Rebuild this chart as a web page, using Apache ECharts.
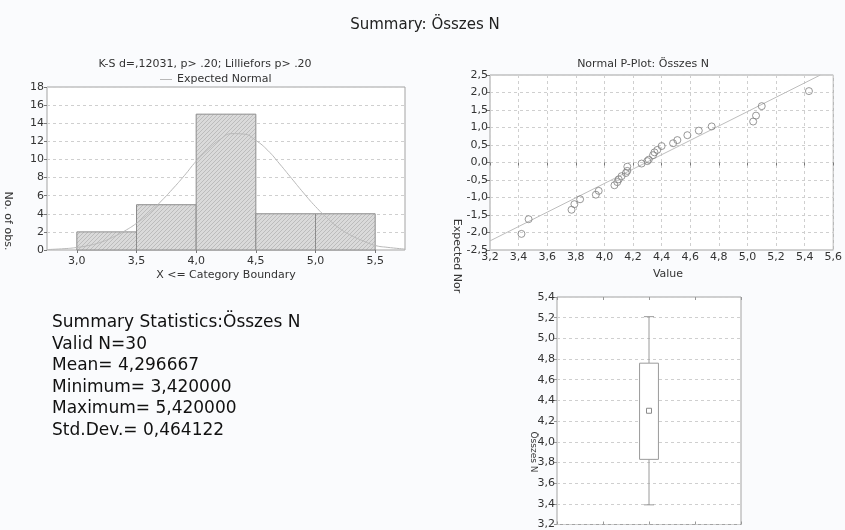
<!DOCTYPE html>
<html>
<head>
<meta charset="utf-8">
<title>Summary: Összes N</title>
<script src="https://cdn.jsdelivr.net/npm/echarts@6/dist/echarts.min.js"></script>
<style>
  html, body { margin: 0; padding: 0; background: #fafbfd; }
  #main { width: 845px; height: 530px; }
</style>
</head>
<body>
<div id="main"></div>
<script>
// histogram
const histEdges = [3.0, 3.5, 4.0, 4.5, 5.0, 5.5];
const histCounts = [2, 5, 15, 4, 4];
const histTicks = [3.0, 3.5, 4.0, 4.5, 5.0, 5.5];

// expected normal curve
const curveX = [2.75, 2.9, 3.0, 3.1, 3.2, 3.3, 3.4, 3.5, 3.6, 3.7, 3.8, 3.9, 4.0, 4.1, 4.2, 4.3,
  4.4, 4.5, 4.6, 4.7, 4.8, 4.9, 5.0, 5.1, 5.2, 5.3, 5.4, 5.5, 5.6, 5.75];
const curveY = [0.05, 0.15, 0.28, 0.5, 0.85, 1.4, 2.1, 2.95, 4.0, 5.3, 6.7, 8.2, 9.8, 11.1, 12.2, 12.85,
  12.8, 12.1, 11.0, 9.5, 7.9, 6.3, 4.8, 3.5, 2.4, 1.6, 1.0, 0.5, 0.3, 0.1];

// normal probability plot
const pValues = [3.42, 3.47, 3.77, 3.79, 3.83, 3.94, 3.96, 4.07, 4.09, 4.10, 4.12, 4.15, 4.16, 4.16, 4.26,
  4.30, 4.31, 4.34, 4.35, 4.37, 4.40, 4.48, 4.51, 4.58, 4.66, 4.75, 5.04, 5.06, 5.10, 5.43];
const pExpected = [-2.04, -1.62, -1.35, -1.19, -1.05, -0.92, -0.81, -0.65, -0.56, -0.48, -0.39, -0.30, -0.24, -0.12, -0.03,
  0.04, 0.08, 0.21, 0.29, 0.36, 0.47, 0.55, 0.64, 0.78, 0.91, 1.03, 1.17, 1.34, 1.61, 2.04];
const refLineX = [3.2, 5.51];
const refLineY = [-2.24, 2.5];

// box plot: mean, +-SD box, +-1.96*SD whiskers
const boxLow = 3.39;
const boxQ1 = 3.83;
const boxMean = 4.30;
const boxQ3 = 4.76;
const boxHigh = 5.21;

const statLines = [
  'Summary Statistics:Összes N',
  'Valid N=30',
  'Mean= 4,296667',
  'Minimum= 3,420000',
  'Maximum= 5,420000',
  'Std.Dev.= 0,464122'
];

const FONT = 'DejaVu Sans';
const comma = (d) => (v) => v.toFixed(d).replace('.', ',');

// hatch pattern for the bars
const pat = document.createElement('canvas');
pat.width = 4; pat.height = 4;
const pc = pat.getContext('2d');
pc.fillStyle = '#dadada';
pc.fillRect(0, 0, 4, 4);
pc.strokeStyle = '#bcbcbc';
pc.lineWidth = 1;
pc.beginPath();
pc.moveTo(0, 4); pc.lineTo(4, 0);
pc.stroke();

const labelStyle = { color: '#333', fontSize: 11, fontFamily: FONT };
const tickStyle = { show: true, length: 3, lineStyle: { color: '#777' } };
const dashed = { show: true, lineStyle: { color: '#cfcfcf', type: [3, 3], width: 1 } };

const myChart = echarts.init(document.getElementById('main'));

const option = {
  backgroundColor: '#fafbfd',
  animation: false,
  textStyle: { fontFamily: FONT },
  grid: [
    { left: 47, top: 87, width: 358, height: 163, show: true, backgroundColor: '#fff', borderColor: '#a3a3a3' },
    { left: 490, top: 75, width: 348, height: 175, show: true, backgroundColor: '#fff', borderColor: '#a3a3a3' },
    { left: 557, top: 297, width: 184, height: 230, show: true, backgroundColor: '#fff', borderColor: '#a3a3a3' }
  ],
  xAxis: [
    {
      gridIndex: 0, type: 'value', min: 2.75, max: 5.75,
      axisLine: { show: false },
      axisTick: Object.assign({ customValues: histTicks }, tickStyle),
      axisLabel: Object.assign({ customValues: histTicks, margin: 6, formatter: comma(1) }, labelStyle),
      splitLine: { show: false }
    },
    {
      gridIndex: 1, type: 'value', min: 3.2, max: 5.6, interval: 0.2,
      axisLine: { show: false },
      axisTick: tickStyle,
      axisLabel: Object.assign({ margin: 2, formatter: comma(1), showMaxLabel: true }, labelStyle),
      splitLine: dashed
    },
    {
      gridIndex: 2, type: 'value', min: 0, max: 4, interval: 1,
      axisLine: { show: false },
      axisTick: { show: true, inside: true, length: 3, lineStyle: { color: '#999' } },
      axisLabel: { show: false },
      splitLine: { show: false }
    },
    {
      gridIndex: 2, type: 'value', position: 'top', min: 0, max: 4, interval: 1,
      axisLine: { show: false },
      axisTick: { show: true, inside: true, length: 3, lineStyle: { color: '#999' } },
      axisLabel: { show: false },
      splitLine: { show: false }
    }
  ],
  yAxis: [
    {
      gridIndex: 0, type: 'value', min: 0, max: 18, interval: 2,
      axisLine: { show: false },
      axisTick: tickStyle,
      axisLabel: Object.assign({ margin: 3 }, labelStyle),
      splitLine: dashed
    },
    {
      gridIndex: 1, type: 'value', min: -2.5, max: 2.5, interval: 0.5,
      axisLine: { show: false },
      axisTick: tickStyle,
      axisLabel: Object.assign({ margin: 2, formatter: comma(1) }, labelStyle),
      splitLine: dashed
    },
    {
      gridIndex: 2, type: 'value', min: 3.2, max: 5.4, interval: 0.2,
      axisLine: { show: false },
      axisTick: tickStyle,
      axisLabel: Object.assign({ margin: 2, formatter: comma(1) }, labelStyle),
      splitLine: dashed
    },
    {
      gridIndex: 2, type: 'value', position: 'right', min: 3.2, max: 5.4, interval: 0.2,
      axisLine: { show: false },
      axisTick: { show: true, inside: true, length: 3, lineStyle: { color: '#999' } },
      axisLabel: { show: false },
      splitLine: { show: false }
    }
  ],
  legend: {
    data: [{ name: 'Expected Normal', icon: 'rect' }],
    left: 155, top: 69,
    itemWidth: 12, itemHeight: 1, itemGap: 4,
    textStyle: { color: '#333', fontSize: 11, fontFamily: FONT }
  },
  graphic: [
    { type: 'text', x: 425, y: 25, style: { text: 'Summary: Összes N', font: '15px "' + FONT + '"', fill: '#222', align: 'center', verticalAlign: 'middle' } },
    { type: 'text', x: 205, y: 64, style: { text: 'K-S d=,12031, p> .20; Lilliefors p> .20', font: '11px "' + FONT + '"', fill: '#333', align: 'center', verticalAlign: 'middle' } },
    { type: 'text', x: 643, y: 64, style: { text: 'Normal P-Plot: Összes N', font: '11px "' + FONT + '"', fill: '#333', align: 'center', verticalAlign: 'middle' } },
    { type: 'text', x: 226, y: 275, style: { text: 'X <= Category Boundary', font: '11px "' + FONT + '"', fill: '#333', align: 'center', verticalAlign: 'middle' } },
    { type: 'text', x: 668, y: 274, style: { text: 'Value', font: '11px "' + FONT + '"', fill: '#333', align: 'center', verticalAlign: 'middle' } },
    { type: 'text', x: 8, y: 221, rotation: -Math.PI / 2, style: { text: 'No. of obs.', font: '11px "' + FONT + '"', fill: '#333', align: 'center', verticalAlign: 'middle' } },
    { type: 'text', x: 457, y: 256, rotation: -Math.PI / 2, style: { text: 'Expected Nor', font: '11px "' + FONT + '"', fill: '#333', align: 'center', verticalAlign: 'middle' } },
    { type: 'text', x: 533, y: 452, rotation: -Math.PI / 2, style: { text: 'Összes N', font: '9px "' + FONT + '"', fill: '#333', align: 'center', verticalAlign: 'middle' } }
  ].concat(statLines.map((t, i) => ({
    type: 'text', x: 52, y: 323 + i * 21.5,
    style: { text: t, font: '17px "' + FONT + '"', fill: '#111', align: 'left', verticalAlign: 'middle' }
  }))),
  series: [
    {
      name: 'bars',
      type: 'custom',
      xAxisIndex: 0, yAxisIndex: 0,
      data: histCounts.map((c, i) => [histEdges[i], histEdges[i + 1], c]),
      encode: { x: [0, 1], y: 2 },
      renderItem: (params, api) => {
        const p0 = api.coord([api.value(0), 0]);
        const p1 = api.coord([api.value(1), api.value(2)]);
        return {
          type: 'rect',
          shape: { x: p0[0], y: p1[1], width: p1[0] - p0[0], height: p0[1] - p1[1] },
          style: { fill: { image: pat, repeat: 'repeat' }, stroke: '#8c8c8c', lineWidth: 1 }
        };
      },
      z: 2
    },
    {
      name: 'Expected Normal',
      type: 'line',
      xAxisIndex: 0, yAxisIndex: 0,
      data: curveX.map((x, i) => [x, curveY[i]]),
      smooth: true,
      showSymbol: false,
      lineStyle: { color: '#b8b8b8', width: 1 },
      itemStyle: { color: '#b8b8b8' },
      z: 3
    },
    {
      name: 'ref',
      type: 'line',
      xAxisIndex: 1, yAxisIndex: 1,
      data: refLineX.map((x, i) => [x, refLineY[i]]),
      showSymbol: false,
      lineStyle: { color: '#bdbdbd', width: 1 },
      z: 2
    },
    {
      name: 'pplot',
      type: 'scatter',
      xAxisIndex: 1, yAxisIndex: 1,
      data: pValues.map((x, i) => [x, pExpected[i]]),
      symbol: 'circle',
      symbolSize: 7,
      itemStyle: { color: 'rgba(255,255,255,0)', borderColor: '#7e7e7e', borderWidth: 1 },
      z: 3
    },
    {
      name: 'box',
      type: 'custom',
      xAxisIndex: 2, yAxisIndex: 2,
      data: [[2, boxLow, boxQ1, boxMean, boxQ3, boxHigh]],
      encode: { x: 0, y: [1, 2, 3, 4, 5] },
      renderItem: (params, api) => {
        const x = api.value(0);
        const lo = api.coord([x, api.value(1)]);
        const q1 = api.coord([x, api.value(2)]);
        const mn = api.coord([x, api.value(3)]);
        const q3 = api.coord([x, api.value(4)]);
        const hi = api.coord([x, api.value(5)]);
        const bw = api.size([0.41, 0])[0];
        const cw = api.size([0.22, 0])[0];
        const st = { stroke: '#9a9a9a', lineWidth: 1, fill: null };
        return {
          type: 'group',
          children: [
            { type: 'line', shape: { x1: hi[0], y1: hi[1], x2: q3[0], y2: q3[1] }, style: st },
            { type: 'line', shape: { x1: q1[0], y1: q1[1], x2: lo[0], y2: lo[1] }, style: st },
            { type: 'line', shape: { x1: hi[0] - cw / 2, y1: hi[1], x2: hi[0] + cw / 2, y2: hi[1] }, style: st },
            { type: 'line', shape: { x1: lo[0] - cw / 2, y1: lo[1], x2: lo[0] + cw / 2, y2: lo[1] }, style: st },
            { type: 'rect', shape: { x: q3[0] - bw / 2, y: q3[1], width: bw, height: q1[1] - q3[1] }, style: { stroke: '#9a9a9a', lineWidth: 1, fill: '#fff' } },
            { type: 'rect', shape: { x: mn[0] - 2.5, y: mn[1] - 2.5, width: 5, height: 5 }, style: { stroke: '#8a8a8a', lineWidth: 1, fill: '#fff' } }
          ]
        };
      },
      z: 3
    }
  ]
};

myChart.setOption(option);
</script>
</body>
</html>
